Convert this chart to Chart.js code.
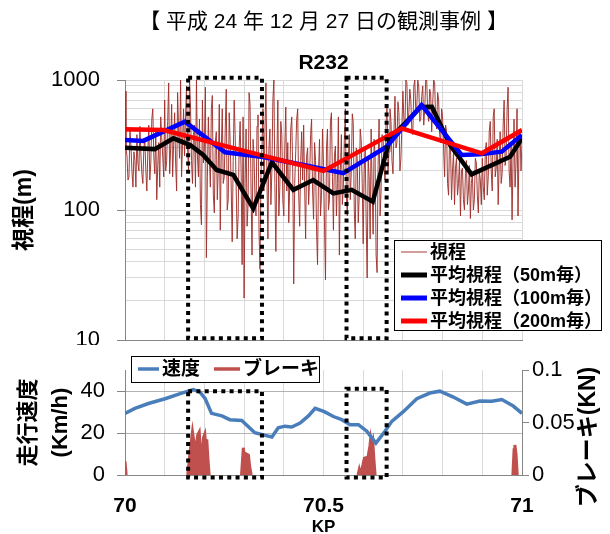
<!DOCTYPE html>
<html>
<head>
<meta charset="utf-8">
<script src="https://cdn.jsdelivr.net/npm/chart.js@4"></script>
<style>
  body { margin: 0; background: #fff; width: 610px; height: 534px; overflow: hidden; position: relative; }
  #top { position: absolute; left: 0; top: 0; }
  #bottom { position: absolute; left: 0; top: 345px; }
</style>
</head>
<body>
<canvas id="top" width="610" height="345"></canvas>
<canvas id="bottom" width="610" height="189"></canvas>
<script>
// ---- data ----
// raw visibility (m), one reading every 0.0025 KP from 70.000
const VIS_KP0 = 70.0;
const VIS_STEP = 0.0025;
const visVal = [
  820, 300, 260, 170, 180, 420, 310, 200, 150, 280, 240, 150, 380, 230, 200, 440, 270, 190, 160, 300,
  350, 200, 140, 280, 450, 170, 230, 500, 600, 260, 190, 400, 120, 220, 330, 150, 520, 360, 260, 180,
  700, 200, 240, 480, 950, 190, 300, 650, 180, 320, 560, 230, 140, 800, 420, 250, 1000, 180, 330, 600,
  260, 520, 900, 300, 200, 1000, 620, 240, 160, 380, 450, 150, 1000, 260, 180, 500, 110, 77, 700, 230,
  300, 880, 43, 180, 520, 250, 150, 600, 760, 130, 95, 330, 400, 120, 210, 650, 70, 280, 600, 160,
  180, 420, 850, 100, 120, 560, 330, 150, 57, 240, 700, 380, 150, 60, 90, 300, 480, 200, 38, 520,
  21, 160, 420, 75, 110, 800, 650, 140, 45, 350, 260, 120, 90, 440, 540, 70, 35, 190, 300, 600,
  140, 400, 950, 180, 60, 300, 420, 110, 200, 700, 1000, 160, 48, 250, 700, 90, 150, 480, 380, 120,
  90, 300, 620, 140, 330, 80, 160, 420, 520, 200, 27, 160, 280, 500, 600, 130, 75, 240, 400, 170,
  450, 150, 60, 260, 300, 110, 170, 380, 500, 140, 85, 330, 240, 70, 38, 200, 350, 90, 130, 420,
  220, 80, 29, 300, 420, 100, 120, 480, 560, 180, 70, 260, 310, 90, 160, 520, 45, 200, 380, 110,
  150, 350, 600, 130, 90, 250, 380, 120, 200, 550, 470, 100, 60, 300, 250, 80, 130, 420, 340, 160,
  55, 200, 300, 80, 30, 250, 180, 60, 420, 150, 65, 350, 260, 45, 33, 220, 500, 90, 140, 380,
  360, 220, 170, 450, 650, 200, 280, 600, 480, 240, 190, 400, 750, 300, 330, 680, 560, 200, 250, 450,
  820, 500, 420, 1000, 960, 450, 560, 850, 700, 400, 380, 900, 1000, 550, 620, 1000, 880, 480, 500, 750,
  900, 450, 600, 1000, 1000, 550, 480, 850, 780, 400, 650, 1000, 950, 500, 420, 800, 700, 380, 330, 600,
  520, 300, 180, 450, 400, 160, 130, 350, 300, 120, 200, 280, 110, 210, 250, 130, 160, 240, 90, 200,
  210, 120, 100, 190, 240, 110, 140, 220, 86, 160, 190, 100, 120, 250, 230, 130, 95, 200, 170, 110,
  250, 150, 120, 280, 330, 130, 180, 400, 480, 200, 140, 520, 600, 180, 210, 350, 110, 230, 400, 160,
  190, 450, 700, 220, 260, 600, 880, 200, 150, 320, 84, 250, 500, 150, 230, 600, 90, 300, 420, 200,
  330
];

// averaged visibility
const avg50KP  = [70.000, 70.075, 70.122, 70.164, 70.197, 70.231, 70.273, 70.323, 70.370, 70.424, 70.474,
                  70.525, 70.571, 70.624, 70.668, 70.701, 70.745, 70.773, 70.819, 70.873, 70.970, 71.000];
const avg50Val = [301, 294, 356, 316, 265, 203, 186, 103, 233, 143, 170,
                  134, 143, 116, 356, 451, 620, 623, 316, 188, 257, 356];
const avg100KP  = [70.000, 70.046, 70.151, 70.252, 70.348, 70.45, 70.55, 70.659, 70.747, 70.848, 70.894, 70.949, 71.000];
const avg100Val = [346, 340, 478, 278, 256, 222, 192, 307, 642, 265, 268, 281, 378];
const avg200KP  = [70.000, 70.097, 70.3, 70.5, 70.697, 70.899, 71.000];
const avg200Val = [418, 412, 285, 200, 425, 273, 412];

// running speed (km/h)
const speedKP  = [70.000, 70.025, 70.059, 70.101, 70.143, 70.172, 70.189, 70.202, 70.218, 70.244, 70.264,
                  70.294, 70.327, 70.353, 70.370, 70.386, 70.403, 70.420, 70.441, 70.462, 70.479,
                  70.502, 70.525, 70.546, 70.567, 70.588, 70.609, 70.632, 70.655, 70.672, 70.701,
                  70.735, 70.768, 70.793, 70.827, 70.861, 70.894, 70.924, 70.949, 70.978, 71.000];
const speedVal = [29.4, 31.8, 34.1, 36.4, 39.1, 40.8, 39.5, 36.4, 29.4, 28.2, 26.4,
                  26.0, 20.2, 18.9, 18.1, 22.5, 23.3, 22.9, 24.8, 28.2, 31.8,
                  30.2, 27.9, 26.4, 24.0, 24.0, 20.9, 15.2, 20.9, 25.6, 30.2,
                  36.4, 39.1, 40.0, 37.2, 33.8, 35.3, 35.2, 36.0, 32.9, 29.4];

// brake (kN), null = no braking
const brakeKP = [70.000, 70.003, 70.1,
  70.158, 70.164, 70.170, 70.174, 70.178, 70.183, 70.187, 70.191, 70.194, 70.198, 70.201, 70.204, 70.206, 70.209, 70.212, 70.25,
  70.2935, 70.298, 70.302, 70.306, 70.311, 70.314, 70.318, 70.45,
  70.587, 70.590, 70.593, 70.5995, 70.603, 70.612, 70.617, 70.619, 70.6215, 70.624, 70.627, 70.630, 70.8,
  70.977, 70.980, 70.982, 70.985, 70.988];
const brakeVal = [0.013, 0, null,
  0, 0.022, 0.041, 0.03, 0.024, 0.038, 0.041, 0.02, 0.012, 0.036, 0.039, 0.025, 0.034, 0.015, 0, null,
  0, 0.026, 0.012, 0.02, 0.019, 0.008, 0, null,
  0, 0.005, 0, 0.01, 0.016, 0.017, 0.028, 0.035, 0.03, 0.033, 0.015, 0, null,
  0, 0.024, 0.0286, 0.02, 0];

// dotted highlight sections (KP from-to)
const boxKP = [[70.159, 70.345], [70.558, 70.659]];
const boxSpeedTop = [40, 41.2];

const F = "'Liberation Sans', 'Noto Sans CJK JP', sans-serif";
Chart.defaults.font.family = F;
Chart.defaults.color = '#000';

const pts = (kp, val) => kp.map((k, i) => ({ x: k, y: val[i] }));
const visPoints = visVal.map((v, i) => ({ x: VIS_KP0 + i * VIS_STEP, y: v }));
const isDecade = v => { const l = Math.log10(v); return Math.abs(l - Math.round(l)) < 1e-9; };

// dotted rectangles drawn through the scales
const dottedBoxes = {
  id: 'dottedBoxes',
  afterDatasetsDraw(chart, args, opts) {
    const { ctx, scales } = chart;
    const x = scales.x, y = scales[opts.axis];
    ctx.save();
    ctx.strokeStyle = '#000';
    ctx.lineWidth = 4;
    ctx.setLineDash([4, 4.3]);
    opts.boxes.forEach(b => {
      const x0 = x.getPixelForValue(b.kp[0]), x1 = x.getPixelForValue(b.kp[1]);
      const y0 = y.getPixelForValue(b.v[1]), y1 = y.getPixelForValue(b.v[0]);
      ctx.strokeRect(x0, y0, x1 - x0, y1 - y0);
    });
    ctx.restore();
  }
};

// framed legend like the spreadsheet one
const boxLegend = {
  id: 'boxLegend',
  afterDraw(chart, args, o) {
    const ctx = chart.ctx;
    ctx.save();
    ctx.fillStyle = '#fff';
    ctx.fillRect(o.x, o.y, o.w, o.h);
    ctx.strokeStyle = '#000';
    ctx.lineWidth = 1;
    ctx.strokeRect(o.x + 0.5, o.y + 0.5, o.w, o.h);
    ctx.font = o.font;
    ctx.textBaseline = 'middle';
    o.items.forEach(it => {
      const ds = chart.data.datasets[it.index];
      ctx.strokeStyle = ds.borderColor;
      ctx.lineWidth = it.lw;
      ctx.beginPath();
      ctx.moveTo(it.x, it.y);
      ctx.lineTo(it.x + it.len, it.y);
      ctx.stroke();
      ctx.fillStyle = '#000';
      ctx.fillText(ds.label, it.x + it.len + 3, it.y + 1);
    });
    ctx.restore();
  }
};

// right-hand axis title, read bottom-to-top as in the original
const sideTitle = {
  id: 'sideTitle',
  afterDraw(chart, args, o) {
    if (!o.text) return;
    const ctx = chart.ctx;
    ctx.save();
    ctx.translate(o.x, o.y);
    ctx.rotate(-Math.PI / 2);
    ctx.font = o.font;
    ctx.textAlign = 'center';
    ctx.textBaseline = 'middle';
    ctx.fillStyle = '#000';
    ctx.fillText(o.text, 0, 0);
    ctx.restore();
  }
};

// ---- top: visibility ----
new Chart(document.getElementById('top'), {
  type: 'line',
  data: {
    datasets: [
      { label: '視程', data: visPoints, borderColor: 'rgba(160,50,45,0.95)', borderWidth: 1, order: 4 },
      { label: '平均視程（50m毎）', data: pts(avg50KP, avg50Val), borderColor: '#000000', borderWidth: 4.5, order: 3 },
      { label: '平均視程（100m毎）', data: pts(avg100KP, avg100Val), borderColor: '#0000ff', borderWidth: 4.5, order: 2 },
      { label: '平均視程（200m毎）', data: pts(avg200KP, avg200Val), borderColor: '#ff0000', borderWidth: 4.5, order: 1 }
    ]
  },
  options: {
    responsive: false,
    animation: false,
    layout: { padding: { left: 0, right: 88, top: 0, bottom: 0 } },
    elements: { point: { radius: 0 }, line: { tension: 0 } },
    plugins: {
      legend: { display: false },
      tooltip: { enabled: false },
      title: { display: true, fullSize: false, color: '#000', text: '【 平成 24 年 12 月 27 日の観測事例 】',
               font: { size: 21, weight: 'normal' }, padding: { top: 9.5, bottom: 5 } },
      subtitle: { display: true, fullSize: false, color: '#000', text: 'R232',
                  font: { size: 21, weight: 'bold' }, padding: { top: 10.7, bottom: 4.4 } },
      dottedBoxes: { axis: 'y', boxes: boxKP.map(k => ({ kp: k, v: [10.3, 1040] })) },
      boxLegend: {
        x: 394, y: 240, w: 207, h: 90, font: 'bold 18px ' + F,
        items: [
          { index: 0, x: 401, y: 252, len: 26, lw: 1 },
          { index: 1, x: 401, y: 275, len: 26, lw: 5 },
          { index: 2, x: 401, y: 298, len: 26, lw: 5 },
          { index: 3, x: 401, y: 321, len: 26, lw: 5 }
        ]
      }
    },
    scales: {
      x: {
        type: 'linear', min: 70, max: 71,
        ticks: { stepSize: 0.1, display: false },
        grid: { color: '#d9d9d9', drawTicks: false },
        border: { color: '#868686' },
        afterFit(s) { s.height = 5; }
      },
      y: {
        type: 'logarithmic', min: 10, max: 1000,
        afterBuildTicks(s) {
          s.ticks = s.ticks.filter(t => {
            const m = t.value / Math.pow(10, Math.floor(Math.log10(t.value) + 1e-9));
            return Math.abs(m - Math.round(m)) < 1e-6;
          });
        },
        ticks: { autoSkip: false, padding: 17, font: { size: 22 }, callback: v => isDecade(v) ? String(v) : '' },
        grid: { color: '#d9d9d9', tickLength: 8,
                tickColor: c => (c.tick && isDecade(c.tick.value)) ? '#868686' : 'rgba(0,0,0,0)' },
        border: { color: '#868686' },
        title: { display: true, text: '視程(m)', font: { size: 23, weight: 'bold' }, padding: { top: 11 } },
        afterFit(s) { s.width = 125; s.paddingTop = 0; s.paddingBottom = 0; }
      }
    }
  },
  plugins: [dottedBoxes, boxLegend]
});

// ---- bottom: speed and brake ----
new Chart(document.getElementById('bottom'), {
  type: 'line',
  data: {
    datasets: [
      { label: '速度', data: pts(speedKP, speedVal), borderColor: '#4a7ebb', borderWidth: 3.5, yAxisID: 'y', order: 1 },
      { label: 'ブレーキ', data: pts(brakeKP, brakeVal), borderColor: '#c0504d', backgroundColor: '#c0504d',
        borderWidth: 3, fill: 'origin', yAxisID: 'y1', order: 2 }
    ]
  },
  options: {
    responsive: false,
    animation: false,
    spanGaps: false,
    layout: { padding: { left: 0, right: 0, top: 23, bottom: 0 } },
    elements: { point: { radius: 0 }, line: { tension: 0 } },
    plugins: {
      legend: { display: false },
      tooltip: { enabled: false },
      dottedBoxes: { axis: 'y', boxes: boxKP.map((k, i) => ({ kp: k, v: [-1.2, boxSpeedTop[i]] })) },
      boxLegend: {
        x: 131, y: 11, w: 188, h: 26, font: 'bold 19px ' + F,
        items: [
          { index: 0, x: 138, y: 24, len: 21, lw: 3.5 },
          { index: 1, x: 214, y: 24, len: 26, lw: 3.5 }
        ]
      },
      sideTitle: { text: 'ブレーキ(KN)', x: 589, y: 92, font: 'bold 23px ' + F }
    },
    scales: {
      x: {
        type: 'linear', min: 70, max: 71,
        ticks: { stepSize: 0.1, autoSkip: false, maxRotation: 0, padding: 19, font: { size: 21, weight: 'bold' },
                 callback: v => Math.round(v * 10) % 5 === 0 ? String(Math.round(v * 10) / 10) : '' },
        grid: { color: '#d9d9d9', drawTicks: false },
        border: { color: '#868686' },
        title: { display: true, text: 'KP', font: { size: 17, weight: 'bold', lineHeight: 0.8 }, padding: 0 },
        afterFit(s) { s.height = 59; }
      },
      y: {
        position: 'left', min: 0, max: 50,
        ticks: { stepSize: 20, includeBounds: false, padding: 12, font: { size: 22 } },
        grid: { color: '#b3b3b3', tickLength: 8, tickColor: '#868686' },
        border: { color: '#868686' },
        title: { display: true, text: ['走行速度', '(Km/h)'], font: { size: 22, weight: 'bold', lineHeight: 1.45 }, padding: { top: 13 } },
        afterFit(s) { s.width = 125; }
      },
      y1: {
        position: 'right', min: 0, max: 0.1,
        ticks: { stepSize: 0.05, padding: 3, font: { size: 22 }, callback: v => String(Math.round(v * 100) / 100) },
        grid: { drawOnChartArea: false, tickLength: 7, tickColor: '#868686' },
        border: { color: '#868686' },
        afterFit(s) { s.width = 88; }
      }
    }
  },
  plugins: [dottedBoxes, boxLegend, sideTitle]
});
</script>
</body>
</html>
